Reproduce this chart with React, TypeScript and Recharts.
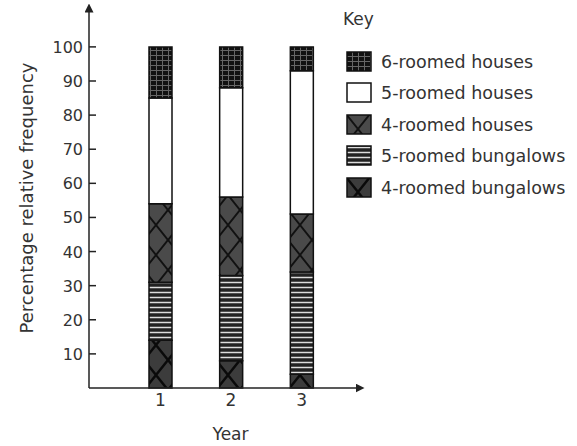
import { Bar, BarChart, XAxis, YAxis } from 'recharts'

const years = ['1', '2', '3']
const bungalows4 = [14, 8, 4]
const bungalows5 = [17, 25, 30]
const houses4 = [23, 23, 17]
const houses5 = [31, 32, 42]
const houses6 = [15, 12, 7]
const yTicks = [10, 20, 30, 40, 50, 60, 70, 80, 90, 100]

const series = [
  { key: 'b4', name: '4-roomed bungalows', fill: 'url(#pB4)' },
  { key: 'b5', name: '5-roomed bungalows', fill: 'url(#pB5)' },
  { key: 'h4', name: '4-roomed houses', fill: 'url(#pH4)' },
  { key: 'h5', name: '5-roomed houses', fill: '#ffffff' },
  { key: 'h6', name: '6-roomed houses', fill: 'url(#pH6)' },
]

const data = years.map((y, i) => ({
  year: y,
  b4: bungalows4[i],
  b5: bungalows5[i],
  h4: houses4[i],
  h5: houses5[i],
  h6: houses6[i],
}))

const font = '"DejaVu Sans", Verdana, sans-serif'
const ink = '#333'

function YTick({ x, y, payload }: any) {
  return (
    <g>
      <line x1={x} x2={x + 7} y1={y} y2={y} stroke="#222" strokeWidth={1.5} />
      <text x={x - 6} y={y} dy={6} textAnchor="end" fontSize={16} fill={ink} fontFamily={font}>
        {payload.value}
      </text>
    </g>
  )
}

// key on the right, top to bottom in reverse stacking order
function KeyLegend() {
  const items = [...series].reverse()
  return (
    <div style={{ position: 'absolute', left: 343, top: 9, fontFamily: font, color: ink }}>
      <div style={{ fontSize: 17, height: 37 }}>Key</div>
      {items.map((s) => (
        <div key={s.key} style={{ display: 'flex', alignItems: 'center', height: 31.5, fontSize: 17.5, whiteSpace: 'nowrap' }}>
          <svg width={28} height={22} style={{ marginLeft: 3, marginRight: 7 }}>
            <rect x={1} y={1} width={24} height={19} fill={s.fill} stroke="#111" strokeWidth={1.5} />
          </svg>
          {s.name}
        </div>
      ))}
    </div>
  )
}

export default function App() {
  return (
    <div style={{ position: 'absolute', left: 0, top: 0, width: 577, height: 446 }}>
      <BarChart width={577} height={446} data={data} margin={{ top: 8, right: 217, bottom: 0, left: 0 }}>
        <defs>
          <marker id="arrow" viewBox="0 0 10 10" refX="5" refY="5" markerWidth="6" markerHeight="6" orient="auto-start-reverse">
            <path d="M0,0 L10,5 L0,10 z" fill="#222" />
          </marker>
          <pattern id="pH6" width="6" height="5" patternUnits="userSpaceOnUse">
            <rect width="6" height="5" fill="#111" />
            <path d="M0,0.5 H6 M0.5,0 V5" stroke="#666" strokeWidth="1" />
          </pattern>
          <pattern id="pH4" width="24" height="30" patternUnits="userSpaceOnUse">
            <rect width="24" height="30" fill="#4a4a4a" />
            <path d="M0,0 L24,30 M24,0 L0,30" stroke="#111" strokeWidth="2" />
          </pattern>
          <pattern id="pB5" width="6" height="5" patternUnits="userSpaceOnUse">
            <rect width="6" height="5" fill="#222" />
            <path d="M0,2.5 H6" stroke="#ddd" strokeWidth="1.5" />
          </pattern>
          <pattern id="pB4" width="24" height="30" patternUnits="userSpaceOnUse">
            <rect width="24" height="30" fill="#3c3c3c" />
            <path d="M0,0 L24,30 M24,0 L0,30" stroke="#0a0a0a" strokeWidth="2.5" />
          </pattern>
        </defs>
        <XAxis
          dataKey="year"
          height={58}
          tickLine={false}
          tickSize={0}
          tickMargin={6}
          interval={0}
          padding={{ left: 36, right: 23 }}
          axisLine={{ stroke: '#222', strokeWidth: 1.5, markerEnd: 'url(#arrow)' }}
          tick={{ fontSize: 17, fill: ink, fontFamily: font }}
          label={{ value: 'Year', position: 'insideBottom', offset: 6, dx: 6, fontSize: 17, fill: ink, fontFamily: font }}
        />
        <YAxis
          width={89}
          domain={[0, 111.4]}
          ticks={yTicks}
          tickSize={0}
          tickMargin={0}
          tickLine={false}
          interval={0}
          axisLine={{ stroke: '#222', strokeWidth: 1.5, markerStart: 'url(#arrow)' }}
          tick={<YTick />}
          label={{
            value: 'Percentage relative frequency',
            angle: -90,
            position: 'insideLeft',
            offset: 27,
            style: { textAnchor: 'middle' },
            fontSize: 18,
            fill: ink,
            fontFamily: font,
          }}
        />
        {series.map((s) => (
          <Bar
            key={s.key}
            dataKey={s.key}
            name={s.name}
            stackId="a"
            fill={s.fill}
            stroke="#111"
            strokeWidth={1.5}
            barSize={23}
            isAnimationActive={false}
          />
        ))}
      </BarChart>
      <KeyLegend />
    </div>
  )
}
